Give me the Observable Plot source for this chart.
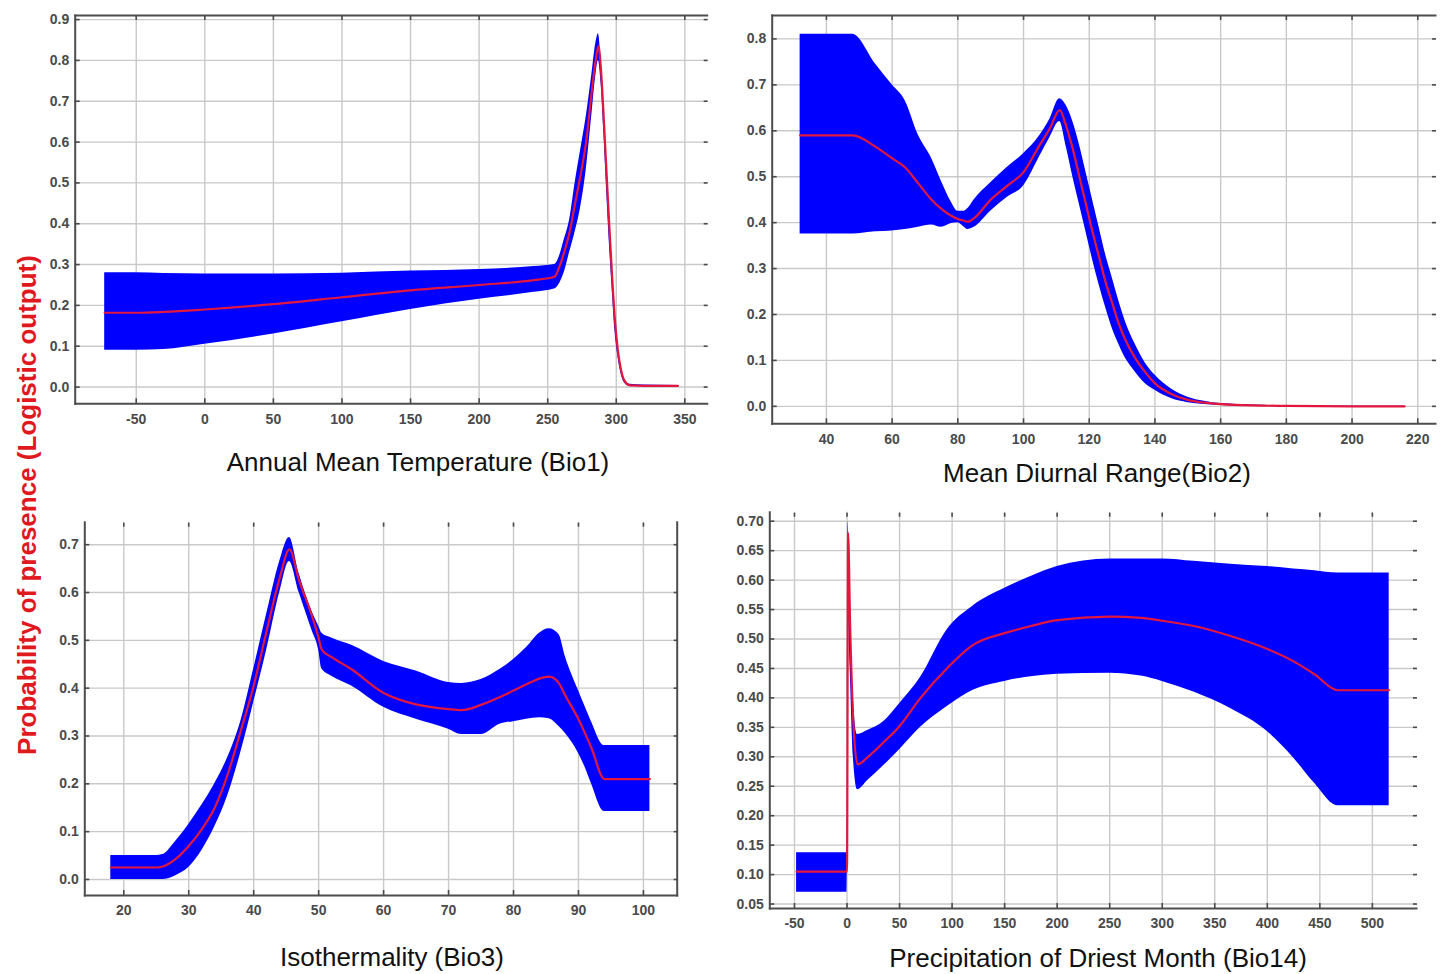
<!DOCTYPE html>
<html>
<head>
<meta charset="utf-8">
<script src="https://cdn.jsdelivr.net/npm/d3@7"></script>
<script src="https://cdn.jsdelivr.net/npm/@observablehq/plot@0.6"></script>
<style>
  body { margin: 0; background: #fff; }
  #root { position: relative; width: 1446px; height: 974px; overflow: hidden; font-family: "Liberation Sans", Arial, sans-serif; background:#fff; }
  .panel { position: absolute; }
  .title { position: absolute; font-size: 26px; color: #111; white-space: nowrap; transform: translate(-50%, -50%); line-height: 1; }
  #ylab { position: absolute; left: 27px; top: 505px; transform: translate(-50%, -50%) rotate(-90deg); color: #e0191f; font-weight: bold; font-size: 26px; white-space: nowrap; line-height: 1; }
</style>
</head>
<body>
<div id="root"><div id="ylab"></div></div>
<script>
// ---------- Data ----------
const yLabel = "Probability of presence (Logistic output)";
const titles = ["Annual Mean Temperature (Bio1)", "Mean Diurnal Range(Bio2)", "Isothermality (Bio3)", "Precipitation of Driest Month (Bio14)"];

// Bio1 – Annual Mean Temperature
const bio1X    = [-73, -50, -30, 0, 50, 100, 150, 200, 240, 255, 258, 262, 266, 270, 274, 278, 282, 285, 287, 289, 291, 293, 295, 297, 299, 301, 303, 306, 310, 320, 345];
const bio1Hi   = [0.28, 0.28, 0.278, 0.277, 0.277, 0.279, 0.284, 0.288, 0.295, 0.300, 0.315, 0.36, 0.41, 0.50, 0.58, 0.66, 0.76, 0.84, 0.865, 0.80, 0.68, 0.55, 0.42, 0.30, 0.19, 0.11, 0.06, 0.02, 0.007, 0.005, 0.004];
const bio1Mean = [0.182, 0.182, 0.184, 0.19, 0.203, 0.22, 0.237, 0.25, 0.262, 0.27, 0.29, 0.33, 0.38, 0.45, 0.52, 0.60, 0.72, 0.80, 0.835, 0.77, 0.65, 0.52, 0.39, 0.27, 0.165, 0.095, 0.05, 0.015, 0.004, 0.003, 0.003];
const bio1Lo   = [0.09, 0.09, 0.092, 0.105, 0.13, 0.16, 0.19, 0.215, 0.232, 0.24, 0.25, 0.28, 0.33, 0.38, 0.44, 0.53, 0.66, 0.76, 0.80, 0.74, 0.62, 0.48, 0.35, 0.24, 0.14, 0.08, 0.04, 0.01, 0.002, 0.001, 0.001];

// Bio2 – Mean Diurnal Range
const bio2X    = [32, 48, 55, 60, 64, 68, 72, 75, 78, 80, 82, 83, 85, 90, 95, 100, 105, 108, 111, 113, 115, 117, 119, 121, 123, 125, 127, 129, 131, 134, 137, 140, 145, 150, 155, 160, 170, 180, 200, 216];
const bio2Hi   = [0.81, 0.81, 0.745, 0.70, 0.665, 0.59, 0.54, 0.49, 0.445, 0.425, 0.425, 0.43, 0.45, 0.487, 0.52, 0.55, 0.59, 0.625, 0.67, 0.655, 0.62, 0.57, 0.51, 0.45, 0.39, 0.33, 0.28, 0.23, 0.185, 0.135, 0.095, 0.068, 0.038, 0.02, 0.011, 0.006, 0.003, 0.001, 0.001, 0.001];
const bio2Mean = [0.59, 0.59, 0.565, 0.54, 0.52, 0.485, 0.45, 0.43, 0.415, 0.408, 0.404, 0.402, 0.41, 0.45, 0.48, 0.51, 0.57, 0.605, 0.645, 0.61, 0.56, 0.50, 0.44, 0.38, 0.325, 0.27, 0.225, 0.18, 0.145, 0.105, 0.075, 0.05, 0.027, 0.014, 0.008, 0.005, 0.002, 0.001, 0.0, 0.0];
const bio2Lo   = [0.375, 0.375, 0.38, 0.382, 0.385, 0.39, 0.395, 0.39, 0.398, 0.40, 0.39, 0.385, 0.39, 0.425, 0.455, 0.48, 0.545, 0.585, 0.62, 0.565, 0.50, 0.44, 0.38, 0.32, 0.265, 0.215, 0.17, 0.135, 0.105, 0.075, 0.05, 0.035, 0.017, 0.008, 0.004, 0.002, 0.001, 0.0, 0.0, 0.0];

// Bio3 – Isothermality
const bio3X    = [18, 25, 26, 28, 30, 32, 34, 36, 38, 40, 42, 44, 45.5, 47, 49, 50, 50.5, 52, 55, 60, 65, 70, 72, 75, 78, 80, 82, 84, 85.5, 87, 88, 90, 91, 92, 94, 101];
const bio3Hi   = [0.05, 0.05, 0.052, 0.08, 0.115, 0.155, 0.2, 0.255, 0.33, 0.44, 0.555, 0.665, 0.715, 0.64, 0.56, 0.53, 0.515, 0.505, 0.49, 0.456, 0.436, 0.412, 0.41, 0.418, 0.44, 0.46, 0.485, 0.515, 0.524, 0.512, 0.465, 0.395, 0.362, 0.33, 0.28, 0.28];
const bio3Mean = [0.025, 0.025, 0.027, 0.043, 0.07, 0.105, 0.15, 0.22, 0.31, 0.405, 0.52, 0.63, 0.69, 0.625, 0.55, 0.505, 0.48, 0.465, 0.44, 0.39, 0.366, 0.356, 0.354, 0.365, 0.382, 0.395, 0.408, 0.42, 0.424, 0.41, 0.384, 0.335, 0.306, 0.275, 0.21, 0.21];
const bio3Lo   = [0.0, 0.0, 0.0, 0.008, 0.025, 0.06, 0.11, 0.175, 0.265, 0.37, 0.48, 0.6, 0.665, 0.6, 0.52, 0.48, 0.44, 0.425, 0.405, 0.36, 0.335, 0.314, 0.303, 0.303, 0.325, 0.33, 0.335, 0.338, 0.336, 0.32, 0.305, 0.264, 0.235, 0.2, 0.142, 0.142];

// Bio14 – Precipitation of Driest Month
const bio14X    = [-48, 0, 1, 3, 6, 10, 20, 35, 50, 70, 95, 120, 150, 175, 200, 250, 280, 300, 330, 365, 400, 425, 445, 467, 516];
const bio14Hi   = [0.137, 0.137, 0.70, 0.55, 0.40, 0.338, 0.345, 0.36, 0.39, 0.435, 0.515, 0.556, 0.586, 0.606, 0.623, 0.636, 0.636, 0.636, 0.632, 0.627, 0.623, 0.619, 0.616, 0.612, 0.612];
const bio14Mean = [0.105, 0.105, 0.68, 0.52, 0.36, 0.287, 0.30, 0.325, 0.352, 0.40, 0.45, 0.49, 0.51, 0.522, 0.532, 0.538, 0.536, 0.531, 0.522, 0.505, 0.483, 0.462, 0.44, 0.413, 0.413];
const bio14Lo   = [0.07, 0.07, 0.55, 0.45, 0.30, 0.244, 0.26, 0.285, 0.312, 0.35, 0.385, 0.413, 0.428, 0.436, 0.44, 0.442, 0.437, 0.428, 0.41, 0.382, 0.343, 0.298, 0.255, 0.217, 0.217];

// Tick values
const bio1XTicks = [-50, 0, 50, 100, 150, 200, 250, 300, 350];
const bio1YTicks = [0, 0.1, 0.2, 0.3, 0.4, 0.5, 0.6, 0.7, 0.8, 0.9];
const bio2XTicks = [40, 60, 80, 100, 120, 140, 160, 180, 200, 220];
const bio2YTicks = [0, 0.1, 0.2, 0.3, 0.4, 0.5, 0.6, 0.7, 0.8];
const bio3XTicks = [20, 30, 40, 50, 60, 70, 80, 90, 100];
const bio3YTicks = [0, 0.1, 0.2, 0.3, 0.4, 0.5, 0.6, 0.7];
const bio14XTicks = [-50, 0, 50, 100, 150, 200, 250, 300, 350, 400, 450, 500];
const bio14YTicks = [0.05, 0.10, 0.15, 0.20, 0.25, 0.30, 0.35, 0.40, 0.45, 0.50, 0.55, 0.60, 0.65, 0.70];

// ---------- Drawing ----------
function panel(cfg) {
  const rows = cfg.X.map((x, i) => ({x, lo: cfg.lo[i], mean: cfg.mean[i], hi: cfg.hi[i]}));
  const grid = {stroke: "#c9c9c9", strokeOpacity: 1, strokeWidth: 1.4};
  const marks = [
    Plot.gridX(cfg.xTicks, grid),
    Plot.gridY(cfg.yTicks, grid),
    Plot.areaY(rows, {x: "x", y1: "lo", y2: "hi", fill: "#0000ff", curve: "monotone-x"}),
    Plot.line(rows, {x: "x", y: "mean", stroke: "#e3173e", strokeWidth: 2.2, curve: "monotone-x"}),
    ...cfg.frames.map(a => Plot.frame({anchor: a, stroke: "#4d4d4d", strokeWidth: 2})),
    Plot.axisY(cfg.yTicks, {anchor: "left", tickSize: -5, tickPadding: 11, strokeWidth: 1.6, tickFormat: cfg.yFmt, label: null}),
    Plot.axisY(cfg.yTicks, {anchor: "right", tickSize: -4, strokeWidth: 1.6, fill: "none", label: null}),
    Plot.axisX(cfg.xTicks, {anchor: "bottom", tickSize: -5, tickPadding: 15, strokeWidth: 1.6, tickFormat: d => String(d), label: null}),
    Plot.axisX(cfg.xTicks, {anchor: "top", tickSize: -4, strokeWidth: 1.6, fill: "none", label: null})
  ];
  const svg = Plot.plot({
    width: cfg.width, height: cfg.height,
    marginLeft: cfg.m[0], marginTop: cfg.m[1], marginRight: cfg.m[2], marginBottom: cfg.m[3],
    x: {domain: cfg.xDomain},
    y: {domain: cfg.yDomain},
    style: {fontFamily: "Liberation Sans, Arial, sans-serif", fontSize: "14px", fontWeight: "bold", color: "#4a4a4a", background: "transparent", overflow: "visible"},
    marks
  });
  svg.classList.add("panel");
  svg.style.left = cfg.left + "px";
  svg.style.top = cfg.top + "px";
  return svg;
}

const root = document.getElementById("root");
const f1 = d3.format(".1f"), f2 = d3.format(".2f");

root.appendChild(panel({X: bio1X, lo: bio1Lo, mean: bio1Mean, hi: bio1Hi, xTicks: bio1XTicks, yTicks: bio1YTicks, yFmt: f1,
  xDomain: [-94.5, 366.3], yDomain: [-0.041, 0.91], left: 0, top: 0, width: 720, height: 440, m: [74.7, 15, 13.3, 36.7],
  frames: ["left", "bottom", "top"]}));
root.appendChild(panel({X: bio2X, lo: bio2Lo, mean: bio2Mean, hi: bio2Hi, xTicks: bio2XTicks, yTicks: bio2YTicks, yFmt: f1,
  xDomain: [23.5, 225.4], yDomain: [-0.038, 0.851], left: 720, top: 0, width: 726, height: 460, m: [51.7, 15, 11, 36.7],
  frames: ["left", "bottom", "top"]}));
root.appendChild(panel({X: bio3X, lo: bio3Lo, mean: bio3Mean, hi: bio3Hi, xTicks: bio3XTicks, yTicks: bio3YTicks, yFmt: f1,
  xDomain: [14.0, 105.2], yDomain: [-0.0335, 0.747], left: 0, top: 490, width: 720, height: 440, m: [84.3, 31.7, 43.3, 35],
  frames: ["left", "bottom", "right"]}));
root.appendChild(panel({X: bio14X, lo: bio14Lo, mean: bio14Mean, hi: bio14Hi, xTicks: bio14XTicks, yTicks: bio14YTicks, yFmt: f2,
  xDomain: [-73.5, 542], yDomain: [0.0424, 0.7153], left: 720, top: 490, width: 726, height: 450, m: [49.3, 21.7, 30, 32],
  frames: ["left", "bottom"]}));

const titlePos = [[418, 462], [1097, 473], [392, 957], [1098, 958]];
titles.forEach((t, i) => {
  const d = document.createElement("div");
  d.className = "title";
  d.textContent = t;
  d.style.left = titlePos[i][0] + "px";
  d.style.top = titlePos[i][1] + "px";
  root.appendChild(d);
});
document.getElementById("ylab").textContent = yLabel;
</script>
</body>
</html>
